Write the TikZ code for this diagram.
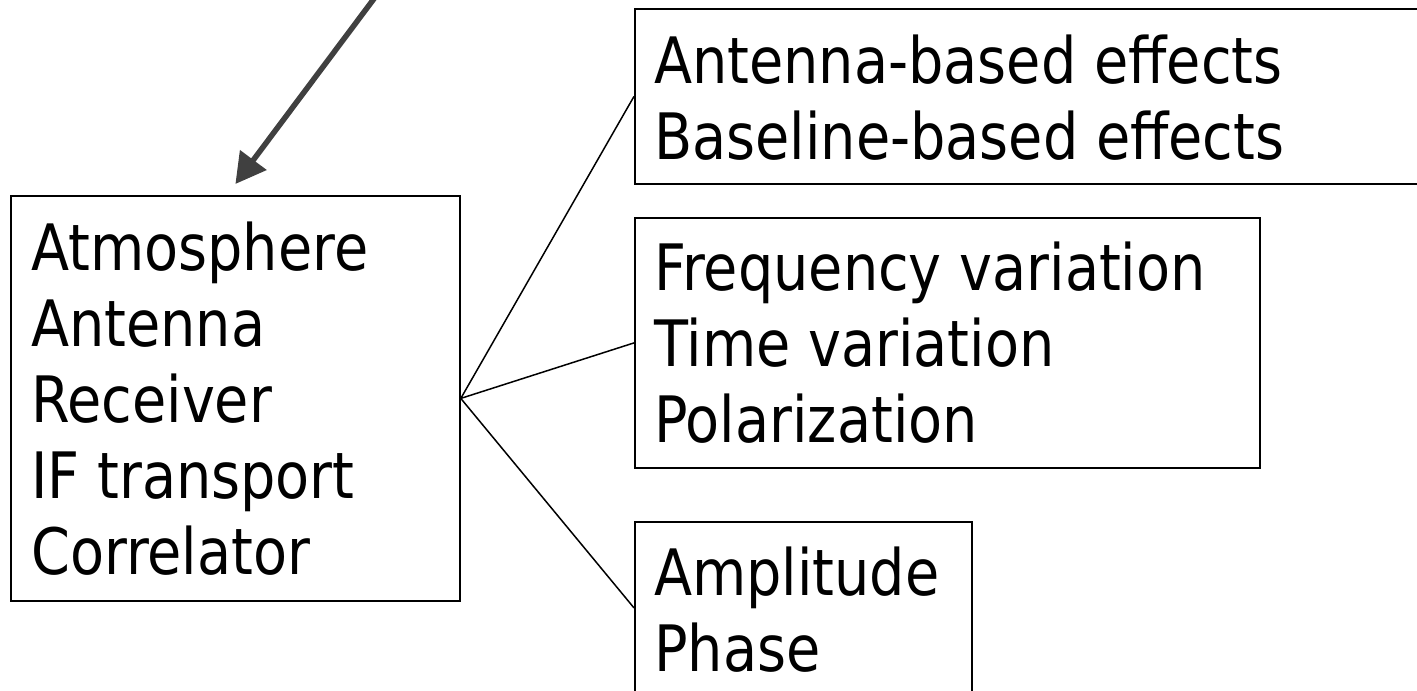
\documentclass[tikz,border=0pt]{standalone}
\usepackage{fontspec}
\setmainfont{DejaVu Sans}[FakeStretch=0.87]
\usetikzlibrary{arrows.meta}
\definecolor{arrowgray}{HTML}{404040}
\begin{document}
\begin{tikzpicture}[x=1pt,y=-1pt,
  box/.style={draw=black, line width=1.8pt, rectangle, inner sep=0pt, anchor=north west},
  lbl/.style={anchor=base west, inner sep=0pt, font=\fontsize{64}{76}\selectfont},
  link/.style={draw=black, line width=1.5pt},
  pointer/.style={draw=arrowgray, line width=5.5pt, -{Triangle[length=30pt,width=32pt]}}]
\clip (0,0) rectangle (1417,691);
\fill[white] (0,0) rectangle (1417,691);
% boxes
\node[box, minimum width=449pt, minimum height=405pt] (src) at (10,195) {};
\node[box, minimum width=800pt, minimum height=175pt] (ab) at (634,8) {};
\node[box, minimum width=625pt, minimum height=250pt] (fv) at (634,217) {};
\node[box, minimum width=337pt, minimum height=172pt] (ap) at (634,521) {};
% texts
\node[lbl] (srct) at (31,270) {\begin{tabular}[t]{@{}l@{}}Atmosphere\\Antenna\\Receiver\\IF transport\\Correlator\end{tabular}};
\node[lbl] (abt) at (654,83) {\begin{tabular}[t]{@{}l@{}}Antenna-based effects\\Baseline-based effects\end{tabular}};
\node[lbl] (fvt) at (654,290) {\begin{tabular}[t]{@{}l@{}}Frequency variation\\Time variation\\Polarization\end{tabular}};
\node[lbl] (apt) at (654,595) {\begin{tabular}[t]{@{}l@{}}Amplitude\\Phase\end{tabular}};
% connectors
\draw[link] (src.east) -- (ab.west);
\draw[link] (src.east) -- (fv.west);
\draw[link] (src.east) -- (ap.west);
% arrow
\coordinate (from) at (377.5,-6);
\draw[pointer] (from) -- ([yshift=11pt]src.north);
\end{tikzpicture}
\end{document}
